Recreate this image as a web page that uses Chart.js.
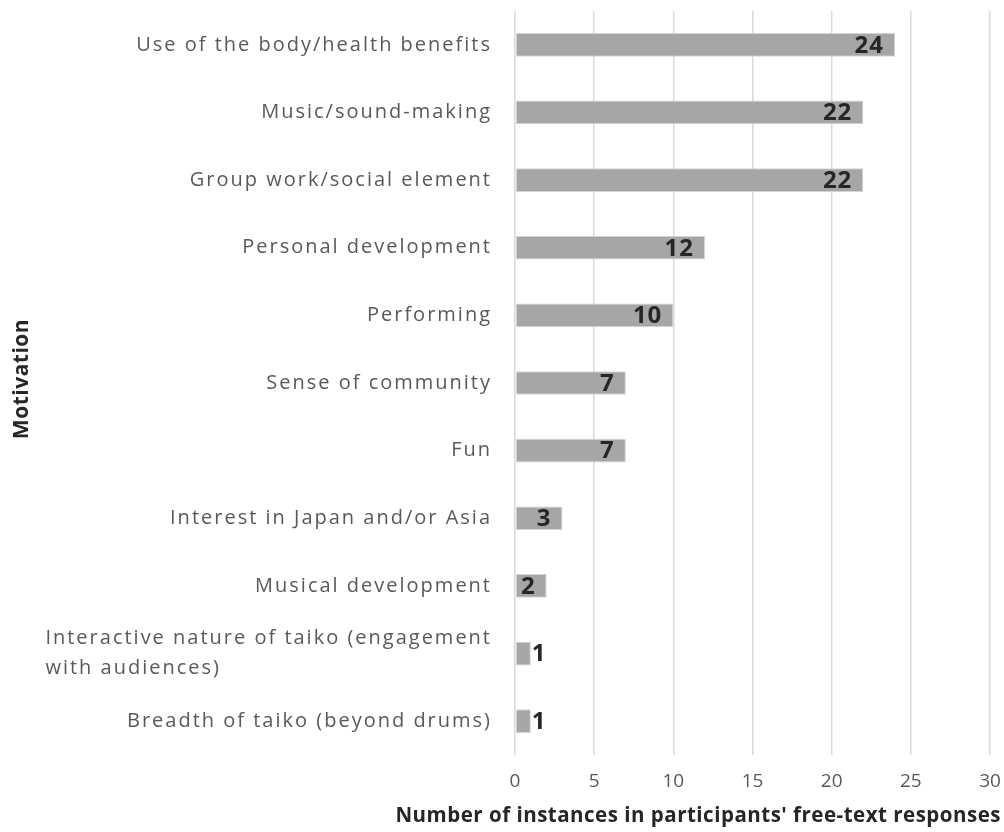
<!DOCTYPE html>
<html>
<head>
<meta charset="utf-8">
<script src="https://cdn.jsdelivr.net/npm/chart.js@4/dist/chart.umd.min.js"></script>
<style>
  html, body { margin: 0; padding: 0; background: #fff; }
  #wrap { width: 1004px; height: 832px; }
</style>
</head>
<body>
<div id="wrap"><canvas id="grafico"></canvas></div>
<script>
const categorias = [
  "Use of the body/health benefits",
  "Music/sound-making",
  "Group work/social element",
  "Personal development",
  "Performing",
  "Sense of community",
  "Fun",
  "Interest in Japan and/or Asia",
  "Musical development",
  ["Interactive nature of taiko (engagement", "with audiences)"],
  "Breadth of taiko (beyond drums)",
];
const instancias = [24, 22, 22, 12, 10, 7, 7, 3, 2, 1, 1];
const ticksX = [0, 5, 10, 15, 20, 25, 30];
const tituloX = "Number of instances in participants' free-text responses";
const tituloY = "Motivation";

const FUENTE = "'Open Sans', sans-serif";

// texts drawn by hand: category labels (letter-spaced, wrapped one left-aligned),
// axis titles and the value labels at the bar ends
const textos = {
  id: "textos",
  afterDatasetsDraw(chart) {
    const ctx = chart.ctx;
    const meta = chart.getDatasetMeta(0);
    ctx.save();
    ctx.font = "bold 24px " + FUENTE;
    ctx.letterSpacing = "1px";
    ctx.fillStyle = "#262626";
    ctx.textBaseline = "middle";
    meta.data.forEach((bar, i) => {
      const txt = String(instancias[i]);
      const w = ctx.measureText(txt).width;
      const ancho = bar.x - bar.base;
      if (ancho > w + 16) {
        ctx.textAlign = "right";
        ctx.fillText(txt, bar.x - 11, bar.y + 1);
      } else {
        ctx.textAlign = "left";
        ctx.fillText(txt, bar.x + 1, bar.y + 1);
      }
    });
    ctx.restore();
  },
  afterDraw(chart) {
    const ctx = chart.ctx;
    const y = chart.scales.y;
    const area = chart.chartArea;
    ctx.save();

    // category labels
    ctx.font = "20px " + FUENTE;
    ctx.letterSpacing = "2px";
    ctx.fillStyle = "#595959";
    ctx.textBaseline = "middle";
    ctx.textAlign = "left";
    const derecha = area.left - 25 + 2;
    categorias.forEach((lab, i) => {
      const lineas = Array.isArray(lab) ? lab : [lab];
      const x0 = derecha - ctx.measureText(lineas[0]).width;
      const yc = y.getPixelForTick(i);
      lineas.forEach((t, k) => {
        ctx.fillText(t, x0, yc + (k - (lineas.length - 1) / 2) * 30);
      });
    });

    // x title
    ctx.font = "bold 20.5px " + FUENTE;
    ctx.letterSpacing = "0.5px";
    ctx.fillStyle = "#262626";
    ctx.textAlign = "right";
    ctx.fillText(tituloX, area.right + 11, 816);

    // y title
    ctx.font = "bold 21px " + FUENTE;
    ctx.translate(22, (area.top + area.bottom) / 2 - 4);
    ctx.rotate(-Math.PI / 2);
    ctx.textAlign = "center";
    ctx.fillText(tituloY, 0, 0);
    ctx.restore();
  },
};

const sinMargen = (scale) => {
  scale.paddingTop = 0;
  scale.paddingBottom = 0;
  scale.paddingLeft = 0;
  scale.paddingRight = 0;
};

new Chart(document.getElementById("grafico"), {
  type: "bar",
  data: {
    labels: categorias,
    datasets: [
      {
        data: instancias,
        backgroundColor: "#a6a6a8",
        borderColor: "#d4d4d6",
        borderWidth: 1,
        borderSkipped: false,
        categoryPercentage: 0.7,
        barPercentage: 0.5,
      },
    ],
  },
  options: {
    indexAxis: "y",
    responsive: true,
    maintainAspectRatio: false,
    animation: false,
    layout: { padding: { left: 8, right: 14, top: 11, bottom: 0 } },
    plugins: {
      legend: { display: false },
      tooltip: { enabled: false },
    },
    scales: {
      x: {
        min: 0,
        max: 30,
        afterBuildTicks: (scale) => {
          scale.ticks = ticksX.map((v) => ({ value: v }));
        },
        afterFit: (scale) => {
          scale.height = 77;
          sinMargen(scale);
        },
        grid: { color: "#d9d9d9", lineWidth: 1.5, drawTicks: false },
        border: { display: false },
        ticks: {
          color: "#595959",
          font: { family: FUENTE, size: 19 },
          padding: 15,
        },
      },
      y: {
        afterFit: (scale) => {
          scale.width = 507;
          sinMargen(scale);
        },
        grid: { display: false, drawTicks: false },
        border: { display: false },
        ticks: { display: false },
      },
    },
  },
  plugins: [textos],
});
</script>
</body>
</html>
